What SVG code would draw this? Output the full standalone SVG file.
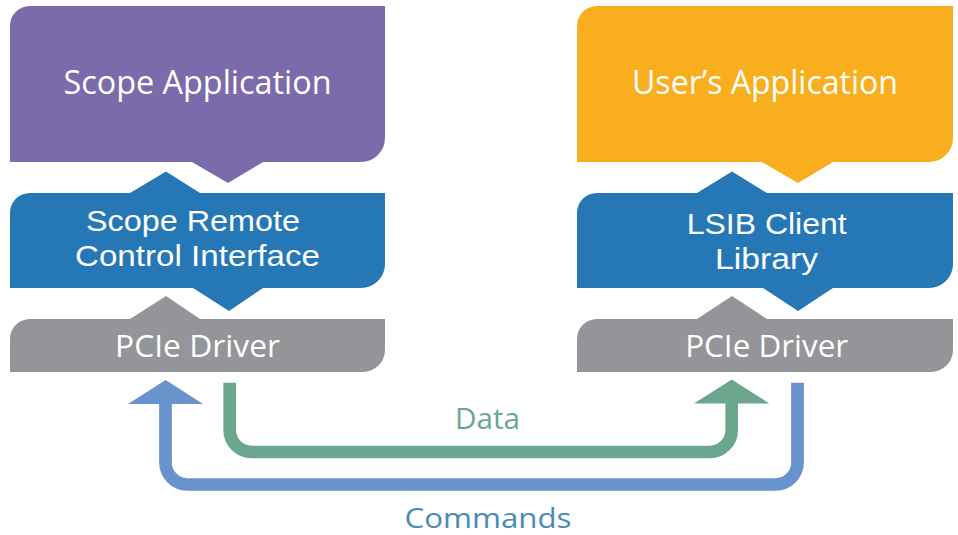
<svg xmlns="http://www.w3.org/2000/svg" width="958" height="535" viewBox="0 0 958 535">
  <style>
    .lbl { font-family: "Open Sans", "Liberation Sans", sans-serif; fill: #ffffff; text-anchor: middle; }
    .big { font-size: 32px; }
    .mid { font-size: 31px; }
    .two { font-family: "Liberation Sans", "Open Sans", sans-serif; font-size: 29px; fill: #ffffff; text-anchor: middle; }
    .conn { fill: none; stroke-width: 12.7; }
    .cap { font-family: "Open Sans", "Liberation Sans", sans-serif; text-anchor: middle; }
  </style>
  <rect width="958" height="535" fill="#ffffff"/>

  <g id="scope-application">
    <path d="M10,26 A20,20 0 0 1 30,6 L385,6 L385,138 A24,24 0 0 1 361,162 L263,162 L228,183 L192,162 L10,162 Z" fill="#7B6BAA"/>
    <text class="lbl big" x="197.5" y="94" textLength="268" lengthAdjust="spacingAndGlyphs">Scope Application</text>
  </g>

  <g id="scope-remote-control-interface">
    <path d="M10,213 A20,20 0 0 1 30,193 L130,193 L166,171.5 L200,193 L385,193 L385,264 A24,24 0 0 1 361,288 L263,288 L229,311 L193,288 L10,288 Z" fill="#2578B5"/>
    <text class="two" x="193" y="231" textLength="214" lengthAdjust="spacingAndGlyphs">Scope Remote</text>
    <text class="two" x="197.5" y="266" textLength="245" lengthAdjust="spacingAndGlyphs">Control Interface</text>
  </g>

  <g id="pcie-driver-left">
    <path d="M10,339 A20,20 0 0 1 30,319 L130,319 L166,296 L200,319 L385,319 L385,350 A22,22 0 0 1 363,372 L10,372 Z" fill="#939598"/>
    <text class="lbl mid" x="197.5" y="356.5" textLength="165" lengthAdjust="spacingAndGlyphs">PCIe Driver</text>
  </g>

  <g id="users-application">
    <path d="M577,26 A20,20 0 0 1 597,6 L953,6 L953,138 A24,24 0 0 1 929,162 L833,162 L798,183 L762,162 L577,162 Z" fill="#F9AE1D"/>
    <text class="lbl big" x="765" y="94" textLength="266" lengthAdjust="spacingAndGlyphs">User’s Application</text>
  </g>

  <g id="lsib-client-library">
    <path d="M577,213 A20,20 0 0 1 597,193 L697,193 L732,171.5 L767,193 L953,193 L953,264 A24,24 0 0 1 929,288 L833,288 L798,311 L763,288 L577,288 Z" fill="#2578B5"/>
    <text class="two" x="766.7" y="233.5" textLength="160" lengthAdjust="spacingAndGlyphs">LSIB Client</text>
    <text class="two" x="766.5" y="268.5" textLength="103" lengthAdjust="spacingAndGlyphs">Library</text>
  </g>

  <g id="pcie-driver-right">
    <path d="M577,339 A20,20 0 0 1 597,319 L697,319 L732,296 L767,319 L953,319 L953,350 A22,22 0 0 1 931,372 L577,372 Z" fill="#939598"/>
    <text class="lbl mid" x="766.7" y="356.5" textLength="163" lengthAdjust="spacingAndGlyphs">PCIe Driver</text>
  </g>

  <g id="connectors">
    <g id="data">
      <path class="conn" stroke="#6BA78F" d="M229.7,382.7 V430 A22,22 0 0 0 251.7,452 H709.7 A22,22 0 0 0 731.7,430 V402"/>
      <polygon points="694,403.5 731.7,379.5 769.3,403.5" fill="#6BA78F"/>
      <text class="cap" x="487.5" y="429.3" font-size="29" fill="#6BA78F" textLength="65" lengthAdjust="spacingAndGlyphs">Data</text>
    </g>
    <g id="commands">
      <path class="conn" stroke="#6893CC" d="M797.5,382.7 V462.5 A22,22 0 0 1 775.5,484.5 H187.5 A22,22 0 0 1 165.5,462.5 V402"/>
      <polygon points="128,404 165.7,380 203,404" fill="#6893CC"/>
      <text class="cap" x="488" y="528.3" font-size="28" fill="#4A8BB2" textLength="167" lengthAdjust="spacingAndGlyphs">Commands</text>
    </g>
  </g>
</svg>
